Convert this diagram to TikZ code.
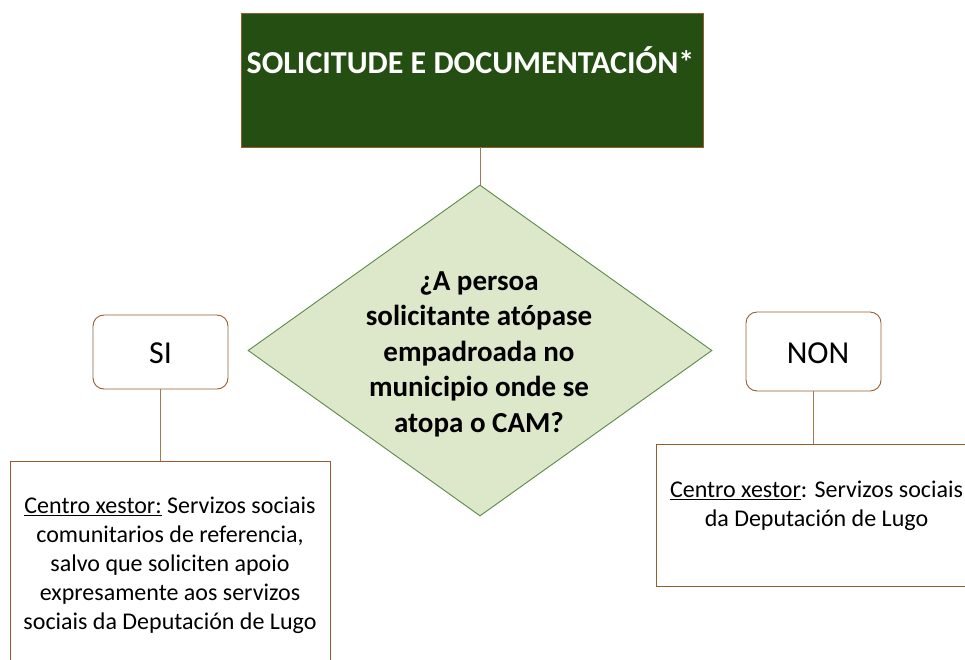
\documentclass[tikz,border=0pt]{standalone}
\usepackage{fontspec}
\setmainfont{Carlito}
\usetikzlibrary{shapes.geometric}
\newcommand\myul[1]{\leavevmode\setbox0\hbox{#1}\rlap{\rule[-2.6pt]{\wd0}{1.1pt}}\box0\relax}
\definecolor{titlegreen}{HTML}{254E13}
\definecolor{boxbrown}{HTML}{9A5B2C}
\definecolor{linebrown}{HTML}{A47A50}
\definecolor{diafill}{HTML}{DDE8CB}
\definecolor{diaedge}{HTML}{5B8A47}
\begin{document}
\begin{tikzpicture}[x=1pt,y=-1pt,
  box/.style={draw=boxbrown, line width=0.9pt, inner sep=0pt, minimum width=#1},
  answer/.style={box=#1, rounded corners=11pt},
  conn/.style={draw=linebrown, line width=0.9pt},
  txt/.style={inner sep=0pt, anchor=base, align=flush center}]
\clip (0,0) rectangle (965,659);
% boxes
\node[box=462pt, fill=titlegreen, minimum height=134pt] (top) at (472,80) {};
\node[diamond, draw=diaedge, fill=diafill, line width=0.9pt, inner sep=0pt,
      minimum width=464pt, minimum height=331pt] (q) at (480,350.5) {};
\node[answer=135pt, minimum height=74pt] (si) at (160.5,352) {};
\node[answer=135pt, minimum height=79pt] (non) at (813.5,351.5) {};
\node[box=320pt, minimum height=239pt] (lbox) at (170,580.5) {};
\node[box=344pt, minimum height=142pt] (rbox) at (828,515) {};
% connectors
\draw[conn] (q.north) -- (q.north |- top.south);
\draw[conn] (si.south) -- (si.south |- lbox.north);
\draw[conn] (non.south) -- (non.south |- rbox.north);
% texts
\node[txt, text=white, font=\fontsize{32}{39}\selectfont\bfseries] (toptext) at (470.5,73) {SOLICITUDE E DOCUMENTACIÓN*};
\node[txt, text width=320pt, font=\fontsize{29}{35.5}\selectfont\bfseries] (qtext) at (479,290)
  {¿A persoa\\ solicitante atópase\\ empadroada no\\ municipio onde se\\ atopa o CAM?};
\node[txt, font=\fontsize{32}{39}\selectfont] (sitext) at (160.5,363) {SI};
\node[txt, font=\fontsize{32}{39}\selectfont] (nontext) at (818,363) {NON};
\node[txt, text width=330pt, font=\fontsize{24}{29}\selectfont] (ltext) at (170,513)
  {\myul{Centro xestor:} Servizos sociais\\ comunitarios de referencia,\\ salvo que soliciten apoio\\ expresamente aos servizos\\ sociais da Deputación de Lugo};
\node[txt, text width=330pt, font=\fontsize{24}{29}\selectfont] (rtext) at (816.5,497)
  {\myul{Centro xestor}: Servizos sociais\\ da Deputación de Lugo};
\end{tikzpicture}
\end{document}
